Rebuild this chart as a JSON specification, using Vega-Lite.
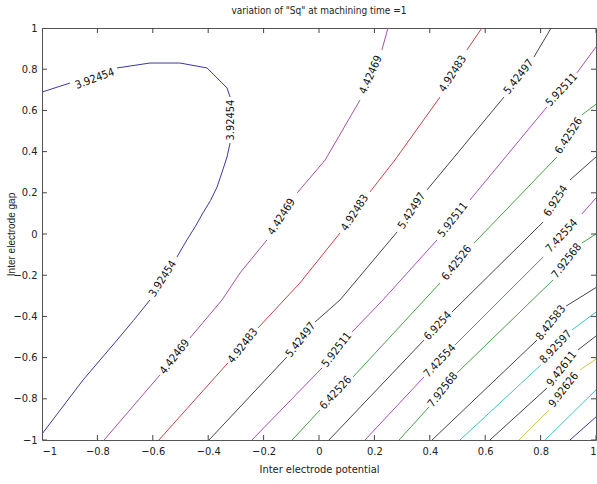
{
  "$schema": "https://vega.github.io/schema/vega-lite/v6.json",
  "width": 554,
  "height": 412,
  "autosize": "none",
  "padding": {"left": 42, "top": 28, "right": 1, "bottom": 44},
  "background": "white",
  "title": {"text": "variation of \"Sq\" at machining time =1", "fontSize": 10, "font": "Liberation Sans Narrow, DejaVu Sans Condensed, Liberation Sans", "fontWeight": "normal", "anchor": "middle", "offset": 6, "color": "#222"},
  "config": {
    "view": {"stroke": "#555", "strokeWidth": 1},
    "axis": {"domain": false, "grid": false, "ticks": false, "tickSize": 0, "labelFont": "Liberation Sans Narrow, DejaVu Sans Condensed, Liberation Sans", "labelFontSize": 11, "labelColor": "#222", "titleFont": "Liberation Sans Narrow, DejaVu Sans Condensed, Liberation Sans", "titleFontSize": 11, "titleFontWeight": "normal", "titleColor": "#222"}
  },
  "datasets": {
    "tickvals": [{"v": -1}, {"v": -0.8}, {"v": -0.6}, {"v": -0.4}, {"v": -0.2}, {"v": 0}, {"v": 0.2}, {"v": 0.4}, {"v": 0.6}, {"v": 0.8}, {"v": 1}],
    "contours": [
      {"level": "3.92454", "seg": "1A", "i": 1, "x": -1, "y": 0.689},
      {"level": "3.92454", "seg": "1A", "i": 2, "x": -0.899, "y": 0.733},
      {"level": "3.92454", "seg": "1B", "i": 3, "x": -0.729, "y": 0.806},
      {"level": "3.92454", "seg": "1B", "i": 4, "x": -0.61, "y": 0.83},
      {"level": "3.92454", "seg": "1B", "i": 5, "x": -0.502, "y": 0.83},
      {"level": "3.92454", "seg": "1B", "i": 6, "x": -0.404, "y": 0.806},
      {"level": "3.92454", "seg": "1B", "i": 7, "x": -0.332, "y": 0.709},
      {"level": "3.92454", "seg": "1B", "i": 8, "x": -0.321, "y": 0.665},
      {"level": "3.92454", "seg": "1C", "i": 9, "x": -0.321, "y": 0.442},
      {"level": "3.92454", "seg": "1C", "i": 10, "x": -0.332, "y": 0.374},
      {"level": "3.92454", "seg": "1C", "i": 11, "x": -0.35, "y": 0.3},
      {"level": "3.92454", "seg": "1C", "i": 12, "x": -0.368, "y": 0.228},
      {"level": "3.92454", "seg": "1C", "i": 13, "x": -0.392, "y": 0.162},
      {"level": "3.92454", "seg": "1C", "i": 14, "x": -0.419, "y": 0.102},
      {"level": "3.92454", "seg": "1C", "i": 15, "x": -0.447, "y": 0.035},
      {"level": "3.92454", "seg": "1C", "i": 16, "x": -0.477, "y": -0.029},
      {"level": "3.92454", "seg": "1C", "i": 17, "x": -0.513, "y": -0.112},
      {"level": "3.92454", "seg": "1D", "i": 18, "x": -0.61, "y": -0.32},
      {"level": "3.92454", "seg": "1D", "i": 19, "x": -0.67, "y": -0.42},
      {"level": "3.92454", "seg": "1D", "i": 20, "x": -0.729, "y": -0.515},
      {"level": "3.92454", "seg": "1D", "i": 21, "x": -0.852, "y": -0.709},
      {"level": "3.92454", "seg": "1D", "i": 22, "x": -1, "y": -0.971},

      {"level": "4.42469", "seg": "2A", "i": 1, "x": -0.776, "y": -1},
      {"level": "4.42469", "seg": "2A", "i": 2, "x": -0.574, "y": -0.684},
      {"level": "4.42469", "seg": "2B", "i": 3, "x": -0.466, "y": -0.505},
      {"level": "4.42469", "seg": "2B", "i": 4, "x": -0.35, "y": -0.32},
      {"level": "4.42469", "seg": "2B", "i": 5, "x": -0.285, "y": -0.189},
      {"level": "4.42469", "seg": "2B", "i": 6, "x": -0.188, "y": -0.029},
      {"level": "4.42469", "seg": "2C", "i": 7, "x": -0.079, "y": 0.199},
      {"level": "4.42469", "seg": "2C", "i": 8, "x": 0.022, "y": 0.359},
      {"level": "4.42469", "seg": "2C", "i": 9, "x": 0.148, "y": 0.65},
      {"level": "4.42469", "seg": "2D", "i": 10, "x": 0.227, "y": 0.893},
      {"level": "4.42469", "seg": "2D", "i": 11, "x": 0.249, "y": 1.0},

      {"level": "4.92483", "seg": "3A", "i": 1, "x": -0.578, "y": -1},
      {"level": "4.92483", "seg": "3A", "i": 2, "x": -0.329, "y": -0.626},
      {"level": "4.92483", "seg": "3B", "i": 3, "x": -0.22, "y": -0.456},
      {"level": "4.92483", "seg": "3B", "i": 4, "x": -0.069, "y": -0.238},
      {"level": "4.92483", "seg": "3B", "i": 5, "x": 0.076, "y": 0.005},
      {"level": "4.92483", "seg": "3C", "i": 6, "x": 0.184, "y": 0.204},
      {"level": "4.92483", "seg": "3C", "i": 7, "x": 0.274, "y": 0.359},
      {"level": "4.92483", "seg": "3C", "i": 8, "x": 0.437, "y": 0.665},
      {"level": "4.92483", "seg": "3D", "i": 9, "x": 0.534, "y": 0.893},
      {"level": "4.92483", "seg": "3D", "i": 10, "x": 0.588, "y": 1.0},

      {"level": "5.42497", "seg": "4A", "i": 1, "x": -0.397, "y": -1},
      {"level": "5.42497", "seg": "4A", "i": 2, "x": -0.116, "y": -0.597},
      {"level": "5.42497", "seg": "4B", "i": 3, "x": -0.014, "y": -0.427},
      {"level": "5.42497", "seg": "4B", "i": 4, "x": 0.076, "y": -0.32},
      {"level": "5.42497", "seg": "4B", "i": 5, "x": 0.282, "y": 0.01},
      {"level": "5.42497", "seg": "4C", "i": 6, "x": 0.39, "y": 0.214},
      {"level": "5.42497", "seg": "4C", "i": 7, "x": 0.668, "y": 0.665},
      {"level": "5.42497", "seg": "4D", "i": 8, "x": 0.776, "y": 0.859},
      {"level": "5.42497", "seg": "4D", "i": 9, "x": 0.838, "y": 1.0},

      {"level": "5.92511", "seg": "5A", "i": 1, "x": -0.242, "y": -1},
      {"level": "5.92511", "seg": "5A", "i": 2, "x": 0.011, "y": -0.65},
      {"level": "5.92511", "seg": "5B", "i": 3, "x": 0.119, "y": -0.476},
      {"level": "5.92511", "seg": "5B", "i": 4, "x": 0.231, "y": -0.32},
      {"level": "5.92511", "seg": "5B", "i": 5, "x": 0.426, "y": -0.029},
      {"level": "5.92511", "seg": "5C", "i": 6, "x": 0.545, "y": 0.165},
      {"level": "5.92511", "seg": "5C", "i": 7, "x": 0.823, "y": 0.617},
      {"level": "5.92511", "seg": "5D", "i": 8, "x": 0.931, "y": 0.782},
      {"level": "5.92511", "seg": "5D", "i": 9, "x": 1.0, "y": 0.908},

      {"level": "6.42526", "seg": "6A", "i": 1, "x": -0.097, "y": -1},
      {"level": "6.42526", "seg": "6A", "i": 2, "x": 0.004, "y": -0.854},
      {"level": "6.42526", "seg": "6B", "i": 3, "x": 0.123, "y": -0.694},
      {"level": "6.42526", "seg": "6B", "i": 4, "x": 0.437, "y": -0.238},
      {"level": "6.42526", "seg": "6C", "i": 5, "x": 0.56, "y": -0.044},
      {"level": "6.42526", "seg": "6C", "i": 6, "x": 0.859, "y": 0.374},
      {"level": "6.42526", "seg": "6D", "i": 7, "x": 0.949, "y": 0.578},
      {"level": "6.42526", "seg": "6D", "i": 8, "x": 1.0, "y": 0.63},

      {"level": "6.9254", "seg": "7A", "i": 1, "x": 0.036, "y": -1},
      {"level": "6.9254", "seg": "7A", "i": 2, "x": 0.379, "y": -0.515},
      {"level": "6.9254", "seg": "7B", "i": 3, "x": 0.48, "y": -0.379},
      {"level": "6.9254", "seg": "7B", "i": 4, "x": 0.809, "y": 0.058},
      {"level": "6.9254", "seg": "7C", "i": 5, "x": 0.906, "y": 0.262},
      {"level": "6.9254", "seg": "7C", "i": 6, "x": 1.0, "y": 0.374},

      {"level": "7.42554", "seg": "8A", "i": 1, "x": 0.166, "y": -1},
      {"level": "7.42554", "seg": "8A", "i": 2, "x": 0.379, "y": -0.694},
      {"level": "7.42554", "seg": "8B", "i": 3, "x": 0.491, "y": -0.539},
      {"level": "7.42554", "seg": "8B", "i": 4, "x": 0.809, "y": -0.112},
      {"level": "7.42554", "seg": "8C", "i": 5, "x": 0.949, "y": 0.097},
      {"level": "7.42554", "seg": "8C", "i": 6, "x": 1.0, "y": 0.175},

      {"level": "7.92568", "seg": "9A", "i": 1, "x": 0.289, "y": -1},
      {"level": "7.92568", "seg": "9A", "i": 2, "x": 0.397, "y": -0.84},
      {"level": "7.92568", "seg": "9B", "i": 3, "x": 0.498, "y": -0.675},
      {"level": "7.92568", "seg": "9B", "i": 4, "x": 0.845, "y": -0.223},
      {"level": "7.92568", "seg": "9C", "i": 5, "x": 0.949, "y": -0.044},
      {"level": "7.92568", "seg": "9C", "i": 6, "x": 1.0, "y": -0.0},

      {"level": "8.42583", "seg": "10A", "i": 1, "x": 0.408, "y": -1},
      {"level": "8.42583", "seg": "10A", "i": 2, "x": 0.787, "y": -0.515},
      {"level": "8.42583", "seg": "10B", "i": 3, "x": 0.892, "y": -0.35},
      {"level": "8.42583", "seg": "10B", "i": 4, "x": 1.0, "y": -0.26},

      {"level": "8.92597", "seg": "11A", "i": 1, "x": 0.509, "y": -1},
      {"level": "8.92597", "seg": "11A", "i": 2, "x": 0.801, "y": -0.636},
      {"level": "8.92597", "seg": "11B", "i": 3, "x": 0.913, "y": -0.466},
      {"level": "8.92597", "seg": "11B", "i": 4, "x": 1.0, "y": -0.379},

      {"level": "9.42611", "seg": "12A", "i": 1, "x": 0.617, "y": -1},
      {"level": "9.42611", "seg": "12A", "i": 2, "x": 0.823, "y": -0.748},
      {"level": "9.42611", "seg": "12B", "i": 3, "x": 0.935, "y": -0.563},
      {"level": "9.42611", "seg": "12B", "i": 4, "x": 1.0, "y": -0.495},

      {"level": "9.92626", "seg": "13A", "i": 1, "x": 0.722, "y": -1},
      {"level": "9.92626", "seg": "13A", "i": 2, "x": 0.83, "y": -0.854},
      {"level": "9.92626", "seg": "13B", "i": 3, "x": 0.942, "y": -0.66},
      {"level": "9.92626", "seg": "13B", "i": 4, "x": 1.0, "y": -0.607},

      {"level": "10.4264", "seg": "14A", "i": 1, "x": 0.816, "y": -1},
      {"level": "10.4264", "seg": "14A", "i": 2, "x": 1.0, "y": -0.757},

      {"level": "10.9265", "seg": "15A", "i": 1, "x": 0.906, "y": -1},
      {"level": "10.9265", "seg": "15A", "i": 2, "x": 1.0, "y": -0.888}
    ],
    "lab20": [{"x": -0.809, "y": 0.752, "label": "3.92454"}],
    "lab90": [{"x": -0.318, "y": 0.553, "label": "3.92454"}],
    "lab47": [
      {"x": 0.061, "y": -0.772, "label": "6.42526"},
      {"x": 0.43, "y": -0.447, "label": "6.9254"},
      {"x": 0.437, "y": -0.617, "label": "7.42554"},
      {"x": 0.877, "y": -0.01, "label": "7.42554"},
      {"x": 0.856, "y": -0.549, "label": "8.92597"},
      {"x": 0.877, "y": 0.699, "label": "5.92511"}
    ],
    "lab52": [
      {"x": -0.52, "y": -0.597, "label": "4.42469"},
      {"x": -0.274, "y": -0.544, "label": "4.92483"},
      {"x": -0.065, "y": -0.515, "label": "5.42497"},
      {"x": 0.065, "y": -0.563, "label": "5.92511"},
      {"x": 0.484, "y": 0.068, "label": "5.92511"},
      {"x": 0.498, "y": -0.141, "label": "6.42526"},
      {"x": 0.448, "y": -0.757, "label": "7.92568"},
      {"x": 0.895, "y": -0.131, "label": "7.92568"},
      {"x": 0.838, "y": -0.432, "label": "8.42583"},
      {"x": 0.877, "y": -0.655, "label": "9.42611"},
      {"x": 0.884, "y": -0.757, "label": "9.92626"},
      {"x": 0.722, "y": 0.762, "label": "5.42497"}
    ],
    "lab57": [
      {"x": -0.563, "y": -0.218, "label": "3.92454"},
      {"x": -0.134, "y": 0.083, "label": "4.42469"},
      {"x": 0.13, "y": 0.102, "label": "4.92483"},
      {"x": 0.336, "y": 0.112, "label": "5.42497"},
      {"x": 0.484, "y": 0.777, "label": "4.92483"},
      {"x": 0.903, "y": 0.476, "label": "6.42526"},
      {"x": 0.856, "y": 0.16, "label": "6.9254"}
    ],
    "lab66": [{"x": 0.188, "y": 0.772, "label": "4.42469"}]
  },
  "layer": [
    {
      "data": {"name": "contours"},
      "mark": {"type": "line", "strokeWidth": 1, "clip": true},
      "encoding": {
        "x": {"field": "x", "type": "quantitative", "scale": {"domain": [-1, 1], "nice": false, "zero": false},
              "axis": {"orient": "bottom", "values": [-1, -0.8, -0.6, -0.4, -0.2, 0, 0.2, 0.4, 0.6, 0.8, 1], "format": "~g", "labelPadding": 5, "title": "Inter electrode potential", "titlePadding": 7}},
        "y": {"field": "y", "type": "quantitative", "scale": {"domain": [-1, 1], "nice": false, "zero": false},
              "axis": {"orient": "left", "values": [-1, -0.8, -0.6, -0.4, -0.2, 0, 0.2, 0.4, 0.6, 0.8, 1], "format": "~g", "labelPadding": 5, "title": "Inter electrode gap", "titleFont": "Liberation Sans", "titleFontSize": 10, "titlePadding": -4}},
        "color": {"field": "level", "type": "nominal", "legend": null,
                  "scale": {"domain": ["3.92454", "4.42469", "4.92483", "5.42497", "5.92511", "6.42526", "6.9254", "7.42554", "7.92568", "8.42583", "8.92597", "9.42611", "9.92626", "10.4264", "10.9265"],
                            "range": ["#3a3a9c", "#a552a5", "#c44545", "#454545", "#a550b8", "#45a045", "#454545", "#a550b8", "#45a045", "#454545", "#45c0c0", "#454545", "#c8c845", "#45c0c0", "#3a3a9c"]}},
        "detail": {"field": "seg"},
        "order": {"field": "i", "type": "quantitative"}
      }
    },
    {
      "data": {"name": "tickvals"},
      "mark": {"type": "tick", "orient": "vertical", "size": 10, "thickness": 1, "color": "#444", "opacity": 1, "clip": true},
      "encoding": {"x": {"field": "v", "type": "quantitative"}, "y": {"datum": -1}}
    },
    {
      "data": {"name": "tickvals"},
      "mark": {"type": "tick", "orient": "vertical", "size": 10, "thickness": 1, "color": "#444", "opacity": 1, "clip": true},
      "encoding": {"x": {"field": "v", "type": "quantitative"}, "y": {"datum": 1}}
    },
    {
      "data": {"name": "tickvals"},
      "mark": {"type": "tick", "orient": "horizontal", "size": 10, "thickness": 1, "color": "#444", "opacity": 1, "clip": true},
      "encoding": {"y": {"field": "v", "type": "quantitative"}, "x": {"datum": -1}}
    },
    {
      "data": {"name": "tickvals"},
      "mark": {"type": "tick", "orient": "horizontal", "size": 10, "thickness": 1, "color": "#444", "opacity": 1, "clip": true},
      "encoding": {"y": {"field": "v", "type": "quantitative"}, "x": {"datum": 1}}
    },
    {
      "data": {"name": "lab20"},
      "mark": {"type": "text", "angle": -20, "font": "Liberation Sans Narrow, DejaVu Sans Condensed, Liberation Sans", "fontSize": 11, "align": "center", "baseline": "middle", "color": "#111"},
      "encoding": {"x": {"field": "x", "type": "quantitative"}, "y": {"field": "y", "type": "quantitative"}, "text": {"field": "label"}}
    },
    {
      "data": {"name": "lab90"},
      "mark": {"type": "text", "angle": -90, "font": "Liberation Sans Narrow, DejaVu Sans Condensed, Liberation Sans", "fontSize": 11, "align": "center", "baseline": "middle", "color": "#111"},
      "encoding": {"x": {"field": "x", "type": "quantitative"}, "y": {"field": "y", "type": "quantitative"}, "text": {"field": "label"}}
    },
    {
      "data": {"name": "lab47"},
      "mark": {"type": "text", "angle": -47, "font": "Liberation Sans Narrow, DejaVu Sans Condensed, Liberation Sans", "fontSize": 11, "align": "center", "baseline": "middle", "color": "#111"},
      "encoding": {"x": {"field": "x", "type": "quantitative"}, "y": {"field": "y", "type": "quantitative"}, "text": {"field": "label"}}
    },
    {
      "data": {"name": "lab52"},
      "mark": {"type": "text", "angle": -52, "font": "Liberation Sans Narrow, DejaVu Sans Condensed, Liberation Sans", "fontSize": 11, "align": "center", "baseline": "middle", "color": "#111"},
      "encoding": {"x": {"field": "x", "type": "quantitative"}, "y": {"field": "y", "type": "quantitative"}, "text": {"field": "label"}}
    },
    {
      "data": {"name": "lab57"},
      "mark": {"type": "text", "angle": -57, "font": "Liberation Sans Narrow, DejaVu Sans Condensed, Liberation Sans", "fontSize": 11, "align": "center", "baseline": "middle", "color": "#111"},
      "encoding": {"x": {"field": "x", "type": "quantitative"}, "y": {"field": "y", "type": "quantitative"}, "text": {"field": "label"}}
    },
    {
      "data": {"name": "lab66"},
      "mark": {"type": "text", "angle": -66, "font": "Liberation Sans Narrow, DejaVu Sans Condensed, Liberation Sans", "fontSize": 11, "align": "center", "baseline": "middle", "color": "#111"},
      "encoding": {"x": {"field": "x", "type": "quantitative"}, "y": {"field": "y", "type": "quantitative"}, "text": {"field": "label"}}
    }
  ]
}
